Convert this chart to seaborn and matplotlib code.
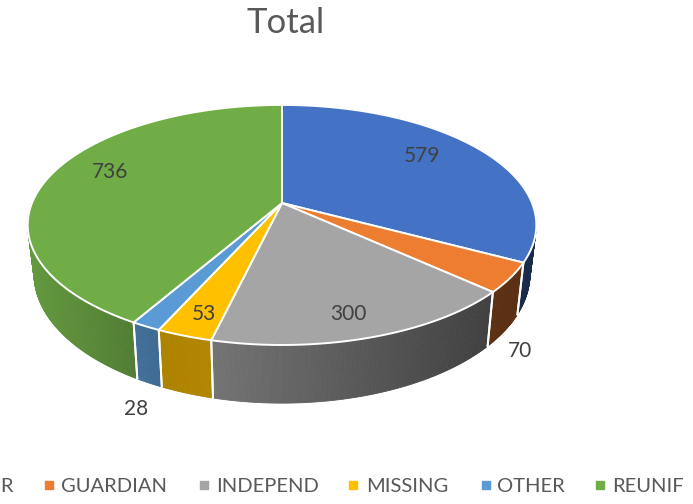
import numpy as np
import pandas as pd
import matplotlib
matplotlib.use('Agg')
import matplotlib.pyplot as plt
import seaborn as sns

# first legend entry is cut off in the picture, only its final R shows
categories = ['FOSTER', 'GUARDIAN', 'INDEPEND', 'MISSING', 'OTHER', 'REUNIF']
values = [579, 70, 300, 53, 28, 736]
colors = ['#4472C4', '#ED7D31', '#A5A5A5', '#FFC000', '#5B9BD5', '#70AD47']

df = pd.DataFrame({'category': categories, 'value': values, 'color': colors})
df['end'] = df['value'].cumsum() / df['value'].sum() * 360
df['start'] = df['end'].shift(1).fillna(0)

sns.set_theme(style='white')
plt.rcParams['font.family'] = ['Lato', 'DejaVu Sans']

# pie geometry in pixels, the tilt is faked with a simple perspective
cx, cy = 282, 203
rx, ry = 250, 116
k = 0.183
depth = 47.5


def top_xy(a):
    t = np.radians(90 - np.asarray(a, dtype=float))
    d = 1 + k * np.sin(t)
    return cx + rx * np.cos(t) / d, cy - ry * np.sin(t) / d


def bottom_xy(a):
    t = np.radians(90 - np.asarray(a, dtype=float))
    d = 1 + k * np.sin(t)
    return cx + 0.975 * rx * np.cos(t) / d, cy - ry * np.sin(t) / d + depth / d


def shade(x):
    return np.interp(x, [30, 135, 160, 212, 490, 530], [0.88, 0.72, 0.68, 0.70, 0.39, 0.38])


fig = plt.figure(figsize=(6.93, 5.04), dpi=100)
ax = fig.add_axes([0, 0, 1, 1])
ax.set_xlim(0, 693)
ax.set_ylim(504, 0)
ax.axis('off')

# side wall, only the front half shows
for _, row in df.iterrows():
    a0, a1 = max(row['start'], 90), min(row['end'], 270)
    if a1 <= a0:
        continue
    base = np.array(matplotlib.colors.to_rgb(row['color']))
    steps = np.linspace(a0, a1, int((a1 - a0) * 2) + 2)
    for s0, s1 in zip(steps[:-1], steps[1:]):
        xt, yt = top_xy([s0, s1])
        xb, yb = bottom_xy([s1, s0])
        c = base * shade((xt[0] + xt[1]) / 2)
        ax.fill([xt[0], xt[1], xb[0], xb[1]], [yt[0], yt[1], yb[0], yb[1]],
                color=c, lw=0.6, zorder=1)
    for a in [a0, a1]:
        if 90 < a < 270:
            xt, yt = top_xy(a)
            xb, yb = bottom_xy(a)
            ax.plot([xt, xb], [yt, yb], color='white', lw=1.4, zorder=2)

# top face
for _, row in df.iterrows():
    arc = np.linspace(row['start'], row['end'], 200)
    x, y = top_xy(arc)
    ax.fill(np.r_[cx, x], np.r_[cy, y], facecolor=row['color'], edgecolor='white',
            lw=1.4, joinstyle='round', zorder=3)

ax.text(286, 23, 'Total', fontsize=25, color='#595959', ha='center', va='center')

label_pos = [(422, 156), (520, 351), (348, 314), (204, 314), (136, 409), (110, 172)]
for v, (lx, ly) in zip(values, label_pos):
    ax.text(lx, ly, str(v), fontsize=15, color='#404040', ha='center', va='center', zorder=4)

# legend runs off the figure on both sides
marker_x = [-104, 49, 203.5, 353, 486, 600]
text_x = [-92, 61, 216, 366, 497, 612]
for name, col, mx, tx in zip(categories, colors, marker_x, text_x):
    ax.scatter([mx], [485], marker='s', s=34, color=col, clip_on=True, zorder=4)
    if name == 'FOSTER':
        ax.text(14, 486, name, fontsize=14.5, color='#595959', ha='right', va='center')
    else:
        ax.text(tx, 486, name, fontsize=14.5, color='#595959', ha='left', va='center')

plt.savefig('out.png', dpi=100)
